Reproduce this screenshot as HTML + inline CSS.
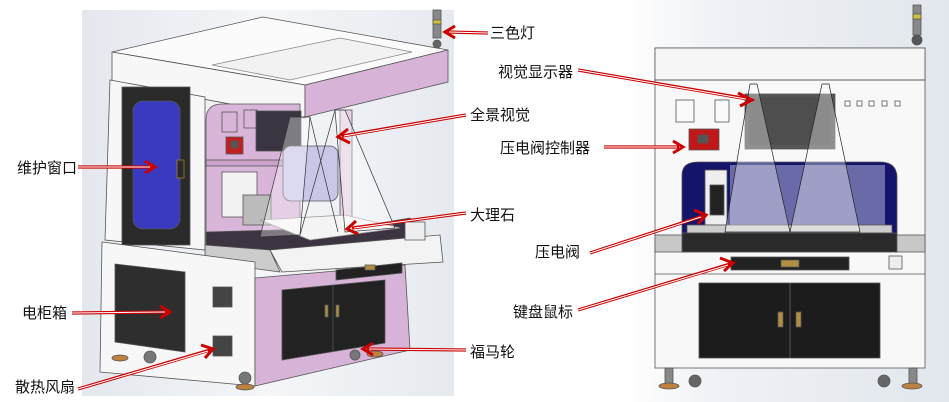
<!DOCTYPE html>
<html><head><meta charset="utf-8"><style>
html,body{margin:0;padding:0;background:#fff;width:949px;height:402px;overflow:hidden}
svg{display:block}
text{font-family:"Liberation Sans","Noto Sans CJK SC",sans-serif;font-size:15px;fill:#111}
</style></head><body>
<svg width="949" height="402" viewBox="0 0 949 402" xmlns="http://www.w3.org/2000/svg">
<defs>
<linearGradient id="bg" x1="0" y1="0" x2="1" y2="0"><stop offset="0" stop-color="#e4e8ee"/><stop offset="0.5" stop-color="#f4f6f8"/><stop offset="1" stop-color="#e6eaef"/></linearGradient>
<linearGradient id="bg2" x1="0" y1="0" x2="1" y2="0"><stop offset="0" stop-color="#fff"/><stop offset="0.3" stop-color="#eef1f5"/><stop offset="1" stop-color="#e2e7ed"/></linearGradient>
</defs>
<rect x="82" y="10" width="372" height="386" fill="url(#bg)"/>
<rect x="623" y="0" width="326" height="402" fill="url(#bg2)"/>

<!-- LEFT MACHINE -->
<g stroke="#555" stroke-width="0.8">
<!-- top face -->
<polygon points="112,52 263,17 448,50 305,85" fill="#fbfbfb"/>
<polygon points="212,65 340,38 412,52 290,80" fill="#f2f2f2" stroke="#888"/>
<!-- top front face -->
<polygon points="112,52 305,85 305,118 112,82" fill="#f7f7f7"/>
<!-- pink top side -->
<polygon points="305,85 448,50 448,82 305,117" fill="#d7b3d7"/>
<!-- left column -->
<polygon points="110,80 205,97 205,250 105,240" fill="#f7f7f7"/>
<rect x="122" y="87" width="68" height="158" fill="#2a2a2a"/>
<rect x="133" y="101" width="47" height="128" rx="10" fill="#3a3ac0"/>
<rect x="177" y="160" width="7" height="18" fill="#2a2a2a" stroke="#a08030"/>
<!-- middle pink panel -->
<path d="M206,243 L206,120 Q206,104 222,104 L300,104 L300,240 Z" fill="#d9b6d9"/>
<rect x="222" y="112" width="15" height="20" fill="#d9b6d9"/>
<rect x="244" y="110" width="13" height="18" fill="#d9b6d9"/>
<rect x="226" y="137" width="17" height="17" fill="#c02020"/>
<rect x="231" y="141" width="7" height="7" fill="#555"/>
<rect x="256" y="111" width="45" height="40" fill="#3a3540"/>
<rect x="206" y="160" width="100" height="6" fill="#c8a2c8"/>
<!-- back window -->
<rect x="283" y="146" width="55" height="55" rx="8" fill="#c9c6e8"/>
<rect x="340" y="110" width="12" height="120" fill="#e5d2e5"/>
<!-- head -->
<rect x="222" y="172" width="35" height="45" fill="#f2f2f2"/>
<rect x="243" y="195" width="28" height="30" fill="#bbb"/>
<!-- table -->
<polygon points="206,232 350,228 410,218 425,240 270,262 206,255" fill="#3c3440"/>
<polygon points="260,220 345,215 400,228 310,240" fill="#f4f4f4" stroke="#999"/>
<polygon points="205,245 270,250 280,272 205,262" fill="#ccc"/>
<polygon points="270,250 440,235 443,262 282,272" fill="#f3f3f3"/>
<polygon points="405,222 425,222 425,240 405,240" fill="#eee"/>
<!-- lower cabinet -->
<polygon points="102,242 255,262 255,386 100,372" fill="#f7f7f7"/>
<polygon points="115,264 185,272 185,352 115,342" fill="#2e2e2e"/>
<rect x="213" y="287" width="19" height="20" fill="#444"/>
<rect x="213" y="336" width="19" height="20" fill="#444"/>
<!-- pink lower -->
<polygon points="255,278 405,265 410,350 255,386" fill="#d7b3d7"/>
<polygon points="282,290 385,280 385,343 282,360" fill="#222"/>
<line x1="333" y1="285" x2="333" y2="352" stroke="#555"/>
<rect x="325" y="305" width="3" height="12" fill="#b09040"/>
<rect x="336" y="305" width="3" height="12" fill="#b09040"/>
<polygon points="336,270 402,263 402,273 336,280" fill="#222"/>
<rect x="365" y="265" width="10" height="5" fill="#b09040"/>
<!-- feet -->
<ellipse cx="120" cy="358" rx="8" ry="3" fill="#c08040"/>
<circle cx="150" cy="357" r="6" fill="#777"/>
<circle cx="245" cy="378" r="6" fill="#777"/>
<ellipse cx="245" cy="387" rx="9" ry="3" fill="#c08040"/>
<circle cx="355" cy="355" r="5" fill="#777"/>
<ellipse cx="375" cy="354" rx="8" ry="3" fill="#c08040"/>
<!-- light tower -->
<rect x="433" y="10" width="8" height="28" fill="#888"/>
<rect x="433" y="20" width="8" height="4" fill="#d0c040"/>
<circle cx="437" cy="44" r="4" fill="#666"/>
</g>
<!-- cones -->
<g fill="#ffffff" fill-opacity="0.35" stroke="#333" stroke-width="0.7">
<polygon points="290,117 310,117 300,235 260,237"/>
<polygon points="335,110 345,110 395,228 345,232"/>
<line x1="310" y1="117" x2="338" y2="232"/>
<line x1="335" y1="110" x2="300" y2="235"/>
</g>

<!-- RIGHT MACHINE -->
<g stroke="#555" stroke-width="0.8">
<rect x="655" y="48" width="270" height="320" fill="#f8f8f8"/>
<rect x="655" y="48" width="270" height="32" fill="#f6f6f6"/>
<line x1="655" y1="80" x2="925" y2="80"/>
<rect x="676" y="100" width="18" height="22" fill="#fafafa"/>
<rect x="715" y="100" width="14" height="22" fill="#fafafa"/>
<rect x="689" y="129" width="30" height="21" fill="#c01818"/>
<rect x="698" y="135" width="10" height="8" fill="#555"/>
<rect x="745" y="94" width="90" height="55" fill="#555"/>
<rect x="749" y="97" width="82" height="48" fill="#4e4e4e"/>
<g fill="#fff"><rect x="845" y="101" width="5" height="5"/><rect x="857" y="101" width="5" height="5"/><rect x="869" y="101" width="5" height="5"/><rect x="882" y="101" width="5" height="5"/><rect x="895" y="101" width="5" height="5"/></g>
<path d="M682,252 L682,175 Q682,162 698,162 L880,162 Q897,162 897,178 L897,252 Z" fill="#14146a"/>
<rect x="730" y="165" width="70" height="70" fill="#6a6aa8" stroke="none"/>
<rect x="800" y="165" width="85" height="70" fill="#6a6aa8" stroke="none"/>
<rect x="705" y="170" width="22" height="55" fill="#eee"/>
<rect x="710" y="185" width="14" height="30" fill="#222"/>
<rect x="687" y="225" width="205" height="8" fill="#ccc"/>
<rect x="682" y="233" width="215" height="19" fill="#2a2a2a"/>
<rect x="655" y="235" width="27" height="17" fill="#c8c8c8"/>
<rect x="897" y="235" width="28" height="17" fill="#c8c8c8"/>
<line x1="655" y1="274" x2="925" y2="274"/>
<rect x="731" y="257" width="118" height="13" fill="#222"/>
<rect x="781" y="260" width="18" height="7" fill="#b09040"/>
<rect x="889" y="256" width="13" height="13" fill="#eee"/>
<rect x="699" y="283" width="181" height="75" fill="#1c1c1c"/>
<line x1="790" y1="283" x2="790" y2="358" stroke="#666"/>
<rect x="778" y="312" width="5" height="15" fill="#b09040"/>
<rect x="796" y="312" width="5" height="15" fill="#b09040"/>
<rect x="665" y="368" width="8" height="16" fill="#888"/>
<circle cx="695" cy="381" r="6" fill="#666"/>
<circle cx="884" cy="381" r="6" fill="#666"/>
<rect x="909" y="368" width="8" height="16" fill="#888"/>
<ellipse cx="669" cy="386" rx="10" ry="3" fill="#c08040"/>
<ellipse cx="912" cy="386" rx="10" ry="3" fill="#c08040"/>
<rect x="913" y="5" width="8" height="30" fill="#888"/>
<rect x="913" y="14" width="8" height="5" fill="#d0c040"/>
<circle cx="917" cy="40" r="5" fill="#555"/>
</g>
<g fill="#ffffff" fill-opacity="0.35" stroke="#222" stroke-width="0.7">
<polygon points="750,84 757,84 790,232 725,232"/>
<polygon points="822,84 829,84 860,232 790,232"/>
</g>

<!-- ARROWS -->
<g stroke="#c00" stroke-width="3.2" fill="none" stroke-linecap="butt">
<line x1="488" y1="33" x2="447" y2="32"/>
<line x1="466" y1="115" x2="342" y2="136"/>
<line x1="78" y1="167" x2="152" y2="167"/>
<line x1="466" y1="213" x2="352" y2="228"/>
<line x1="72" y1="313" x2="167" y2="312"/>
<line x1="466" y1="350" x2="367" y2="349"/>
<line x1="78" y1="389" x2="210" y2="350"/>
<line x1="578" y1="70" x2="748" y2="99"/>
<line x1="604" y1="147" x2="679" y2="147"/>
<line x1="590" y1="253" x2="703" y2="216"/>
<line x1="578" y1="310" x2="730" y2="264"/>
</g>
<g stroke="#fff" stroke-width="1" fill="none">
<line x1="488" y1="33" x2="449" y2="32"/>
<line x1="466" y1="115" x2="344" y2="136"/>
<line x1="78" y1="167" x2="150" y2="167"/>
<line x1="466" y1="213" x2="354" y2="228"/>
<line x1="72" y1="313" x2="165" y2="312"/>
<line x1="466" y1="350" x2="369" y2="349"/>
<line x1="78" y1="389" x2="208" y2="351"/>
<line x1="578" y1="70" x2="746" y2="99"/>
<line x1="604" y1="147" x2="677" y2="147"/>
<line x1="590" y1="253" x2="701" y2="217"/>
<line x1="578" y1="310" x2="728" y2="265"/>
</g>
<g stroke="#c00" stroke-width="3" fill="none" stroke-linejoin="miter">
<polyline points="455,26 445,32 455,38"/>
<polyline points="348,129 338,137 350,143"/>
<polyline points="145,161 155,167 145,173"/>
<polyline points="356,221 347,229 358,234"/>
<polyline points="160,306 170,312 160,318"/>
<polyline points="373,343 363,349 373,355"/>
<polyline points="201,345 213,349 205,358"/>
<polyline points="738,93 752,100 740,106"/>
<polyline points="673,141 683,147 673,153"/>
<polyline points="694,210 706,215 698,224"/>
<polyline points="720,258 733,263 724,271"/>
</g>

<!-- LABELS -->
<text x="490" y="38">三色灯</text>
<text x="17" y="173">维护窗口</text>
<text x="470" y="120">全景视觉</text>
<text x="470" y="220">大理石</text>
<text x="22" y="318">电柜箱</text>
<text x="470" y="357">福马轮</text>
<text x="15" y="392">散热风扇</text>
<text x="498" y="77">视觉显示器</text>
<text x="500" y="153">压电阀控制器</text>
<text x="535" y="257">压电阀</text>
<text x="513" y="317">键盘鼠标</text>
</svg>
</body></html>
